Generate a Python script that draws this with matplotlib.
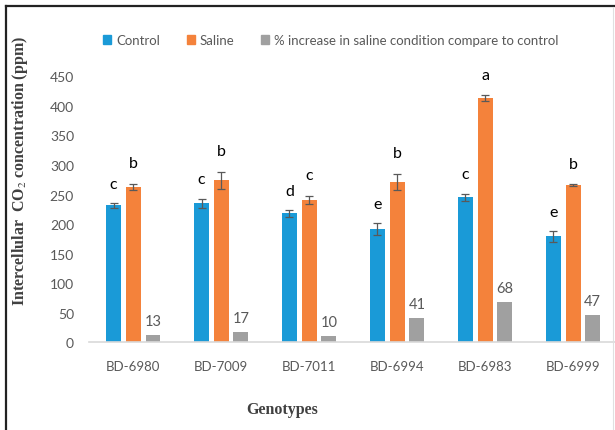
import matplotlib
matplotlib.use("Agg")
import matplotlib.pyplot as plt
from matplotlib.patches import Patch
from matplotlib.lines import Line2D
import numpy as np

genotypes = ["BD-6980", "BD-7009", "BD-7011", "BD-6994", "BD-6983", "BD-6999"]
control = [232, 235, 218, 192, 245, 179]
control_err = [4, 8, 5.5, 10, 6.5, 9.5]
saline = [263, 274, 241, 271, 413, 266]
saline_err = [5, 14, 6.5, 13.5, 5, 1.5]
pct_increase = [13, 17, 10, 41, 68, 47]
control_letters = ["c", "c", "d", "e", "c", "e"]
saline_letters = ["b", "b", "c", "b", "a", "b"]
yticks = [0, 50, 100, 150, 200, 250, 300, 350, 400, 450]

C_BLUE = "#1A9AD7"
C_ORANGE = "#F4823B"
C_GRAY = "#A0A0A0"
C_TEXT = "#595959"

plt.rcParams["font.family"] = ["Lato", "DejaVu Sans"]
plt.rcParams["mathtext.fontset"] = "stix"

W, H = 615, 431
fig = plt.figure(figsize=(W / 100, H / 100), dpi=100)
ax = fig.add_axes([89.3 / W, 87.7 / H, 527.7 / W, 266 / H])

x = np.arange(len(genotypes))
pitch, bw = 0.224, 0.17
err_kw = dict(ecolor=C_TEXT, elinewidth=0.9, capsize=3, capthick=0.9)

ax.bar(x - pitch, control, bw, color=C_BLUE, yerr=control_err, error_kw=err_kw)
ax.bar(x, saline, bw, color=C_ORANGE, yerr=saline_err, error_kw=err_kw)
ax.bar(x + pitch, pct_increase, bw, color=C_GRAY)

# significance letters above the error bars
for xi, v, e, s in zip(x - pitch, control, control_err, control_letters):
    ax.annotate(s, (xi, v + e), xytext=(0, 11), textcoords="offset points",
                ha="center", va="baseline", fontsize=11.5, color="black")
for xi, v, e, s in zip(x, saline, saline_err, saline_letters):
    ax.annotate(s, (xi, v + e), xytext=(0, 12), textcoords="offset points",
                ha="center", va="baseline", fontsize=11.5, color="black")
# percentage labels
for xi, v in zip(x + pitch, pct_increase):
    ax.annotate(f"{v}", (xi, v), xytext=(0, 5), textcoords="offset points",
                ha="center", va="bottom", fontsize=10.5, color=C_TEXT)

ax.set_xlim(-0.5, len(genotypes) - 0.5)
ax.set_ylim(0, 450)
ax.set_yticks(yticks)
ax.set_xticks(x)
ax.set_xticklabels(genotypes)
ax.tick_params(axis="x", length=0, pad=13, labelsize=9.5, labelcolor=C_TEXT)
ax.tick_params(axis="y", length=0, pad=11, labelsize=10, labelcolor=C_TEXT)
for side in ("top", "right", "left"):
    ax.spines[side].set_visible(False)
ax.spines["bottom"].set_color("#D9D9D9")
ax.spines["bottom"].set_linewidth(1.2)

ax.set_ylabel("Intercellular  CO$_2$ concentration (ppm)", family="Liberation Serif",
              fontweight="bold", fontsize=11.5, color="#404040")
ax.yaxis.set_label_coords(-0.112, 0.648)
ax.set_xlabel("Genotypes", family="Liberation Serif", fontweight="bold",
              fontsize=11.5, color="#404040")
ax.xaxis.set_label_coords(0.365, -0.221)

handles = [Patch(color=C_BLUE), Patch(color=C_ORANGE), Patch(color=C_GRAY)]
labels = ["Control", "Saline", "% increase in saline condition compare to control"]
fig.legend(handles, labels, loc="center", bbox_to_anchor=(331 / W, 1 - 41 / H),
           ncol=3, frameon=False, fontsize=9.5, handlelength=0.6, handleheight=0.6,
           handletextpad=0.4, columnspacing=2.0, labelcolor=C_TEXT)

# outer frame
fig.add_artist(Line2D([6 / W, 6 / W], [0, 1 - 7 / H], color="#222222", lw=1.6))
fig.add_artist(Line2D([6 / W, 1], [1 - 7 / H, 1 - 7 / H], color="#222222", lw=1.6))
fig.add_artist(Line2D([613 / W, 613 / W], [0, 1 - 8 / H], color="#E0E0E0", lw=0.8))

fig.savefig("out.png", dpi=100)
